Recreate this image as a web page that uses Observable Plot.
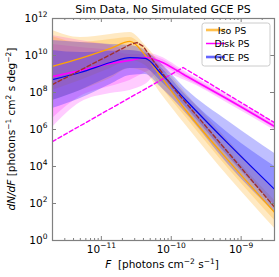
<!DOCTYPE html>
<html><head><meta charset="utf-8">
<script src="https://cdn.jsdelivr.net/npm/d3@7"></script>
<script src="https://cdn.jsdelivr.net/npm/@observablehq/plot@0.6"></script>
<style>body{margin:0;background:#fff} #chart{width:279px;height:277px}</style>
</head><body><div id="chart"></div>
<script>
// sample fluxes (log10 F)
const xLog = [-11.70, -11.30, -10.87, -10.59, -10.37, -10.16, -9.80, -9.16, -8.52];
// Iso PS (log10 dN/dF)
const isoMed  = [9.41, 9.84, 10.38, 10.76, 10.00, 8.92, 7.08, 4.22, 1.51];
const isoHi95 = [11.35, 10.97, 11.14, 11.24, 10.54, 9.62, 8.00, 5.30, 2.70];
const isoHi68 = [11.03, 10.70, 10.86, 10.97, 10.32, 9.30, 7.57, 4.76, 2.16];
const isoLo68 = [8.11, 8.65, 9.30, 9.73, 9.46, 8.38, 6.70, 3.78, 1.08];
const isoLo95 = [7.57, 8.11, 8.76, 9.30, 9.08, 8.00, 6.27, 3.35, 0.65];
// GCE PS
const gceMed  = [8.70, 9.08, 9.62, 9.89, 9.84, 9.08, 7.62, 5.14, 2.76];
const gceHi95 = [10.81, 10.70, 10.59, 10.54, 10.27, 9.62, 8.22, 6.38, 4.70];
const gceHi68 = [10.27, 10.16, 10.22, 10.27, 10.11, 9.41, 7.89, 5.73, 4.00];
const gceLo68 = [7.57, 8.11, 8.86, 9.30, 9.30, 8.65, 7.24, 4.43, 1.89];
const gceLo95 = [7.14, 7.68, 8.43, 8.92, 8.97, 8.32, 6.92, 4.00, 1.51];
// Disk PS
const diskMed  = [8.86, 9.19, 9.57, 9.73, 9.89, 9.68, 8.92, 7.57, 6.16];
const diskHi95 = [11.08, 10.81, 10.54, 10.27, 10.16, 9.95, 9.14, 7.78, 6.38];
const diskHi68 = [10.59, 10.43, 10.27, 10.05, 10.05, 9.84, 9.03, 7.68, 6.27];
const diskLo68 = [6.59, 7.78, 8.32, 8.65, 9.08, 9.41, 8.76, 7.46, 6.05];
const diskLo95 = [6.11, 7.46, 7.95, 8.11, 8.43, 9.08, 8.65, 7.35, 5.95];
// simulated truth (dashed)
const diskTrueF = [-11.70, -9.83, -8.52];
const diskTrueY = [5.35, 9.35, 6.36];
const isoTrueF = [-11.70, -10.59, -10.49, -10.40, -10.23, -9.94, -8.52];
const isoTrueY = [8.43, 10.59, 10.70, 10.49, 9.57, 8.11, 1.79];
// ticks
const yTicks = [1, 1e2, 1e4, 1e6, 1e8, 1e10, 1e12];
const xMajor = [1e-11, 1e-10, 1e-9];
const xMinor = [3e-12,4e-12,5e-12,6e-12,7e-12,8e-12,9e-12,
  2e-11,3e-11,4e-11,5e-11,6e-11,7e-11,8e-11,9e-11,
  2e-10,3e-10,4e-10,5e-10,6e-10,7e-10,8e-10,9e-10,2e-9];
const legendNames = ["Iso PS", "Disk PS", "GCE PS"];
const legendColors = ["#ffc04d", "#ff00ff", "#6666ff"];

const p10 = v => Math.pow(10, v);
function rows(med, lo68, hi68, lo95, hi95) {
  return xLog.map((lf, i) => ({F: p10(lf), med: p10(med[i]), lo68: p10(lo68[i]), hi68: p10(hi68[i]), lo95: p10(lo95[i]), hi95: p10(hi95[i])}));
}
const iso = rows(isoMed, isoLo68, isoHi68, isoLo95, isoHi95);
const gce = rows(gceMed, gceLo68, gceHi68, gceLo95, gceHi95);
const disk = rows(diskMed, diskLo68, diskHi68, diskLo95, diskHi95);
const diskTrue = diskTrueF.map((f, i) => ({F: p10(f), v: p10(diskTrueY[i])}));
const isoTrue = isoTrueF.map((f, i) => ({F: p10(f), v: p10(isoTrueY[i])}));

const W = 279, H = 277, mL = 52, mR = 5, mT = 18, mB = 37;
const pw = W - mL - mR, ph = H - mT - mB;
const curve = "monotone-x";
const band = (data, c, op) => [
  Plot.areaY(data, {x: "F", y1: "lo95", y2: "hi95", fill: c, fillOpacity: op, curve}),
  Plot.areaY(data, {x: "F", y1: "lo68", y2: "hi68", fill: c, fillOpacity: op, curve})
];
const supFmt = d => "10^" + String(Math.round(Math.log10(d))).replace("-", "\u2212");

const svg = Plot.plot({
  width: W, height: H, marginLeft: mL, marginRight: mR, marginTop: mT, marginBottom: mB,
  x: {type: "log", domain: [2e-12, 3e-9]},
  y: {type: "log", domain: [1, 1e12]},
  style: {fontFamily: "DejaVu Sans, sans-serif", fontSize: "10.5px", background: "white", color: "#000"},
  marks: [
    ...band(disk, "#ff00ff", 0.2),
    ...band(iso, "#ffa500", 0.24),
    ...band(gce, "#1a1aff", 0.28),
    Plot.line(iso, {x: "F", y: "med", stroke: "#ffa500", strokeWidth: 1.3, curve, clip: true}),
    Plot.line(disk, {x: "F", y: "med", stroke: "#ff00ff", strokeWidth: 1.6, curve, clip: true}),
    Plot.line(gce, {x: "F", y: "med", stroke: "#0000ee", strokeWidth: 1.2, curve, clip: true}),
    Plot.line(diskTrue, {x: "F", y: "v", stroke: "#ff00ff", strokeWidth: 1.4, strokeDasharray: "4,2.5", clip: true}),
    Plot.line(isoTrue, {x: "F", y: "v", stroke: "#a0302a", strokeWidth: 1.4, strokeDasharray: "4,2.5", clip: true}),
    Plot.frame({stroke: "#808080", strokeWidth: 1.2}),
    Plot.tickY(yTicks, {stroke: "#808080", insetRight: pw - 4}),
    Plot.tickY(yTicks, {stroke: "#808080", insetLeft: pw - 4}),
    Plot.tickX(xMajor, {stroke: "#808080", insetTop: ph - 4}),
    Plot.tickX(xMajor, {stroke: "#808080", insetBottom: ph - 4}),
    Plot.tickX(xMinor, {stroke: "#808080", insetTop: ph - 2}),
    Plot.tickX(xMinor, {stroke: "#808080", insetBottom: ph - 2}),
    Plot.axisY({ticks: yTicks, tickSize: 0, tickPadding: 5, tickFormat: supFmt, label: null}),
    Plot.axisX({ticks: xMajor, tickSize: 0, tickPadding: 5, tickFormat: supFmt, label: null})
  ]
});

const root = d3.select(svg);
// superscripts on tick labels
root.selectAll("text").each(function() {
  const t = this.textContent;
  const m = /^10\^(.+)$/.exec(t);
  if (m) {
    const s = d3.select(this);
    s.text("10");
    s.append("tspan").attr("dy", "-4.5px").attr("font-size", "7.5px").text(m[1]);
  }
});
function richText(sel, parts) {
  let raised = false;
  parts.forEach(p => {
    const ts = sel.append("tspan").text(p.t);
    if (p.i) ts.attr("font-style", "italic");
    if (p.s && !raised) { ts.attr("dy", "-4.5px").attr("font-size", "7.5px"); raised = true; }
    else if (p.s) { ts.attr("font-size", "7.5px"); }
    else if (raised) { ts.attr("dy", "4.5px"); raised = false; }
  });
}
const font = "DejaVu Sans, sans-serif";
root.append("text").attr("x", 163).attr("y", 13).attr("text-anchor", "middle")
  .attr("font-family", font).attr("font-size", "11px").attr("fill", "#000")
  .text("Sim Data, No Simulated GCE PS");
const xl = root.append("text").attr("x", 162).attr("y", 268).attr("text-anchor", "middle")
  .attr("font-family", font).attr("font-size", "10.5px").attr("fill", "#000");
richText(xl, [{t: "F", i: true}, {t: "  [photons cm"}, {t: "\u22122", s: true}, {t: " s"}, {t: "\u22121", s: true}, {t: "]"}]);
const yl = root.append("text").attr("transform", "translate(15,129) rotate(-90)").attr("text-anchor", "middle")
  .attr("font-family", font).attr("font-size", "10.5px").attr("fill", "#000");
richText(yl, [{t: "dN/dF", i: true}, {t: " [photons"}, {t: "\u22121", s: true}, {t: " cm"}, {t: "2", s: true}, {t: " s deg"}, {t: "\u22122", s: true}, {t: "]"}]);
// legend
const lg = root.append("g");
lg.append("rect").attr("x", 202).attr("y", 23).attr("width", 68).attr("height", 43).attr("rx", 2.5)
  .attr("fill", "white").attr("fill-opacity", 0.85).attr("stroke", "#cccccc");
legendNames.forEach((n, i) => {
  const yy = 30 + i * 13.5;
  lg.append("line").attr("x1", 206).attr("x2", 225).attr("y1", yy).attr("y2", yy)
    .attr("stroke", legendColors[i]).attr("stroke-width", i === 1 ? 1.5 : 2.6);
  lg.append("text").attr("x", 232).attr("y", yy + 3.5).attr("font-family", font)
    .attr("font-size", "9.5px").attr("fill", "#000").text(n);
});
document.getElementById("chart").appendChild(svg);
</script>
</body></html>
